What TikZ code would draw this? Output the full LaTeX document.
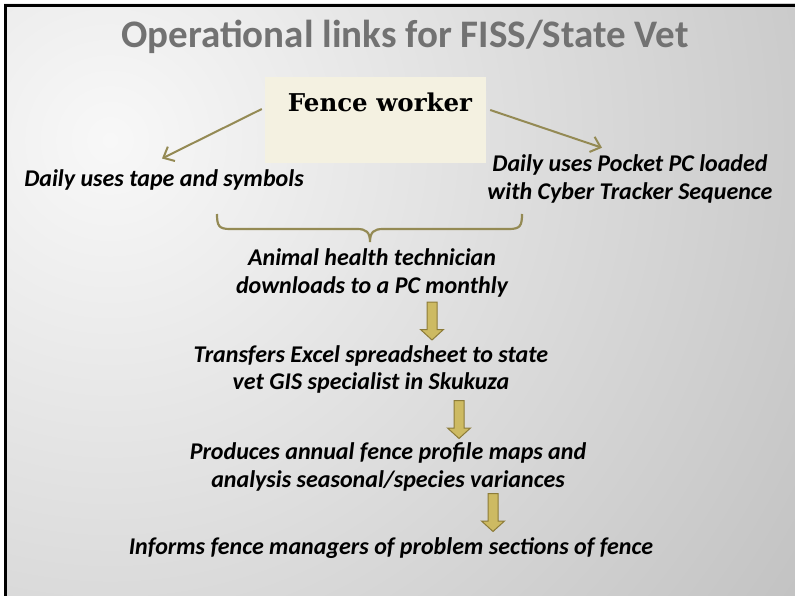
\documentclass[tikz,border=0pt]{standalone}
\usepackage{fontspec}
\setmainfont{Carlito}
\newfontfamily\titlefont{Carlito}
\newfontfamily\fwfont{DejaVu Serif}
\usetikzlibrary{arrows.meta}
\definecolor{olivec}{HTML}{948A54}
\definecolor{khakic}{HTML}{CDBA62}
\definecolor{khakid}{HTML}{8C7B38}
\definecolor{creamc}{HTML}{F4F1E1}
\definecolor{bgin}{HTML}{F8F8F8}
\definecolor{bgout}{HTML}{A4A4A4}
\definecolor{titlec}{HTML}{727272}
\tikzset{
  body/.style={font=\bfseries\itshape\fontsize{24}{27.5}\selectfont, align=center, inner sep=2pt, text=black},
  olivearrow/.style={draw=olivec, line width=2pt, -{Straight Barb[length=9pt,width=16pt,line width=2pt]}},
  bracestyle/.style={draw=olivec, line width=2.2pt},
  barrowstyle/.style={fill=khakic, draw=khakid, line width=1pt, line join=miter},
  barrow/.pic={\path[barrowstyle] (-5,-19) -- (5,-19) -- (5,8.5) -- (11.5,8.5) -- (0,19) -- (-11.5,8.5) -- (-5,8.5) -- cycle;}
}
\begin{document}
\begin{tikzpicture}[x=1pt,y=-1pt]
\useasboundingbox (0,0) rectangle (795,596);
\fill[white] (0,0) rectangle (795,596);
\begin{scope}
\clip (4,4) rectangle (795,596);
\shade[inner color=bgin, outer color=bgout] (110,140) circle (1300pt);
\end{scope}
\draw[black, line width=3pt] (5.5,596) -- (5.5,5.5) -- (795,5.5);
% title
\node[font=\titlefont\bfseries\fontsize{39}{44}\selectfont, text=titlec] (title) at (405,37) {Operational links for FISS/State Vet};
% fence worker box
\node[fill=creamc, minimum width=221pt, minimum height=86pt, inner sep=0pt] (fw) at (375.5,120) {};
\node[font=\fwfont\bfseries\fontsize{24.5}{28}\selectfont, inner sep=0pt] (fwl) at (380,102) {Fence worker};
% texts
\node[body] (tape) at (164,180) {Daily uses tape and symbols};
\node[body] (pocket) at (630,179) {Daily uses Pocket PC loaded\\with Cyber Tracker Sequence};
\node[body] (tech) at (372,273) {Animal health technician\\downloads to a PC monthly};
\node[body] (transfer) at (371,369.5) {Transfers Excel spreadsheet to state\\vet GIS specialist in Skukuza};
\node[body] (produce) at (388,467) {Produces annual fence profile maps and\\analysis seasonal/species variances};
\node[body] (inform) at (391,548) {Informs fence managers of problem sections of fence};
% olive arrows
\draw[olivearrow] ([xshift=-3pt,yshift=11pt]fw.west) -- ([xshift=-2pt,yshift=9pt]tape.north);
\draw[olivearrow] ([xshift=4pt,yshift=10pt]fw.east) -- ([xshift=-28pt,yshift=5pt]pocket.north);
% brace
\draw[bracestyle] (217,214) .. controls (217,226) and (219,229) .. (230,229) -- (357,229) .. controls (366,229) and (370,232) .. (370,242) .. controls (370,232) and (374,229) .. (383,229) -- (509,229) .. controls (520,229) and (522,226) .. (522,214);
% block arrows
\pic at (432,321) {barrow};
\pic at (459,419.5) {barrow};
\pic at (493,512.5) {barrow};
\end{tikzpicture}
\end{document}
